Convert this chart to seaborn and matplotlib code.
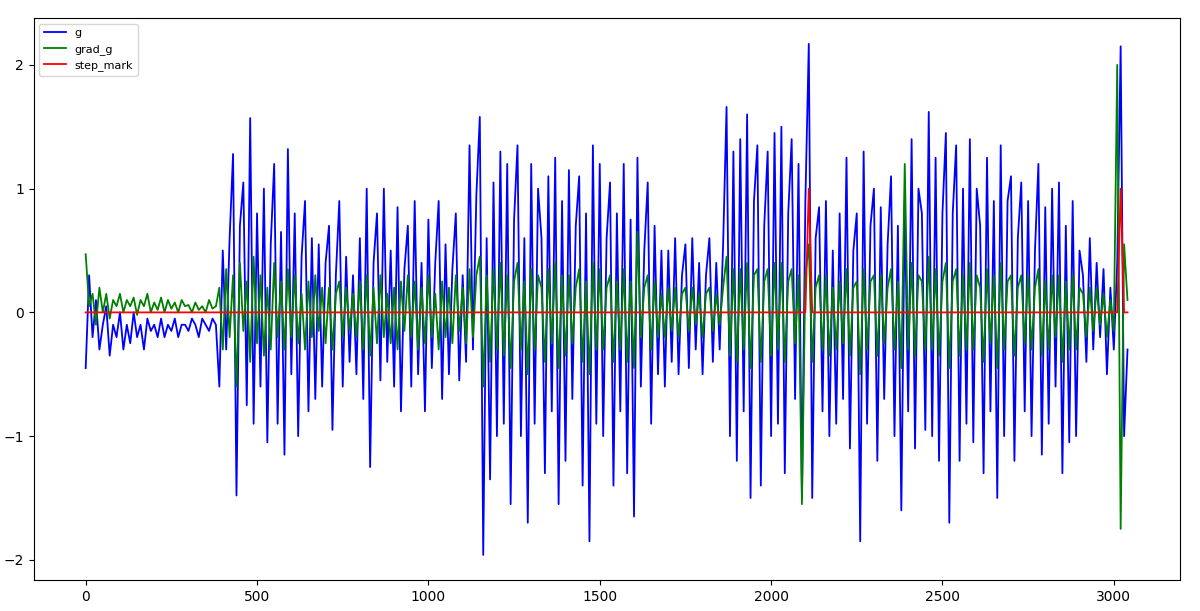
import numpy as np
import matplotlib
matplotlib.use("Agg")
import matplotlib.pyplot as plt
import seaborn as sns

# === datos (leidos a ojo, un valor cada 10 muestras) ===
x = np.arange(0, 3050, 10)

g = [
    -0.45, 0.3, -0.2, 0.1, -0.3, -0.1, 0.05, -0.35, -0.1, -0.2,
    0.0, -0.3, -0.1, -0.25, 0.0, -0.2, -0.1, -0.3, -0.05, -0.15,
    -0.1, -0.2, -0.05, -0.2, -0.1, -0.15, -0.05, -0.2, -0.1, -0.1,
    -0.15, -0.05, -0.1, -0.2, -0.05, -0.1, -0.15, -0.05, -0.1, -0.6,
    0.5, -0.3, 0.6, 1.28, -1.48, 0.7, 1.05, -0.75, 1.57, -0.9,
    0.8, -0.6, 1.0, -1.05, 0.55, 1.2, -0.9, 0.65, -1.15, 1.32,
    -0.5, 0.8, -1.0, 0.45, 0.9, -0.8, 0.6, -0.7, 0.55, -0.6,
    0.4, 0.7, -0.95, 0.3, 0.9, -0.6, 0.45, -0.4, 0.3, -0.5,
    0.6, -0.7, 1.0, -1.25, 0.4, 0.8, -0.55, 1.0, -0.4, 0.5,
    -0.6, 0.85, -0.8, 0.35, 0.7, -0.6, 0.9, -0.5, 0.4, -0.8,
    0.75, -0.45, 0.4, 0.9, -0.7, 0.55, -0.5, 0.35, 0.8, -0.55,
    0.3, -0.4, 1.35, -0.3, 0.95, 1.58, -1.96, 0.6, -1.35, 1.05,
    -1.0, 1.3, -0.9, 1.2, -1.55, 0.75, 1.35, -1.0, 0.6, -1.7,
    1.2, -0.9, 1.0, 0.6, -1.3, 1.1, -0.8, 1.25, -1.55, 0.9,
    -1.2, 1.15, -0.7, 0.7, 1.1, -1.4, 0.8, -1.85, 1.35, -0.9,
    1.2, -1.0, 0.6, 1.05, -1.4, 0.8, -0.8, 1.2, -1.3, 0.75,
    -1.65, 1.25, -0.6, 0.5, 1.05, -0.9, 0.7, -0.5, 0.5, -0.6,
    0.5, -0.4, 0.6, -0.5, 0.3, 0.55, -0.45, 0.6, -0.3, 0.4,
    -0.5, 0.3, 0.6, -0.4, 0.4, -0.3, 0.55, 1.66, -1.0, 1.3,
    -1.2, 1.4, -0.8, 1.6, -1.5, 0.9, 1.35, -1.4, 0.7, 1.3,
    -1.0, 1.45, -0.9, 1.5, -1.3, 0.8, 1.4, -0.7, 1.2, -1.5,
    0.9, 2.17, -1.5, 0.6, 0.85, -0.8, 0.9, -1.0, 0.5, -0.9,
    0.8, -0.7, 1.25, -1.1, 0.5, 0.8, -1.85, 1.3, -0.9, 0.7,
    1.0, -1.2, 0.85, -0.7, 0.55, 1.1, -1.0, 0.7, -1.6, 0.9,
    -0.8, 1.4, -1.1, 1.0, 0.8, -0.95, 1.62, -1.0, 1.25, -1.2,
    0.8, 1.45, -1.7, 0.8, 1.35, -1.2, 1.0, -0.9, 1.4, -1.05,
    1.0, 0.7, -1.3, 1.25, -0.8, 0.9, -1.5, 1.35, -1.0, 0.9,
    1.1, -1.2, 0.6, 1.05, -0.8, 0.9, -1.0, 0.5, 1.2, -1.15,
    0.85, -0.9, 1.0, -0.6, 1.05, -1.3, 0.7, -1.05, 0.9, -1.0,
    0.5, 0.3, -0.4, 0.6, -0.3, 0.4, -0.2, 0.35, -0.5, 0.2,
    -0.3, 0.4, 2.15, -1.0, -0.3,
]

grad_g = [
    0.47, 0.05, 0.15, -0.1, 0.2, 0.0, 0.15, -0.05, 0.1, 0.05,
    0.15, 0.0, 0.1, 0.05, 0.12, -0.02, 0.1, 0.05, 0.15, 0.0,
    0.08, 0.02, 0.12, 0.0, 0.1, 0.03, 0.08, 0.0, 0.1, 0.05,
    0.06, 0.0, 0.08, 0.02, 0.05, 0.0, 0.1, 0.03, 0.05, 0.2,
    -0.3, 0.35, -0.2, 0.3, -0.6, 0.4, -0.15, 0.25, -0.4, 0.45,
    -0.25, 0.3, -0.35, 0.2, -0.3, 0.4, -0.2, 0.25, -0.3, 0.35,
    -0.2, 0.3, -0.25, 0.15, -0.3, 0.25, -0.2, 0.3, -0.15, 0.2,
    -0.25, 0.2, -0.3, 0.15, 0.25, -0.2, 0.2, -0.15, 0.15, -0.2,
    0.25, -0.3, 0.3, -0.35, 0.2, -0.25, 0.3, -0.2, 0.15, -0.25,
    0.2, -0.3, 0.25, -0.15, 0.3, -0.2, 0.25, -0.3, 0.2, -0.25,
    0.3, -0.2, 0.15, -0.3, 0.25, -0.2, 0.2, -0.25, 0.3, -0.15,
    0.2, -0.25, 0.35, -0.2, 0.3, 0.45, -0.6, 0.3, -0.4, 0.35,
    -0.3, 0.4, -0.35, 0.3, -0.45, 0.25, 0.4, -0.3, 0.25, -0.5,
    0.35, -0.3, 0.3, 0.2, -0.4, 0.35, -0.25, 0.4, -0.45, 0.3,
    -0.35, 0.3, -0.25, 0.2, 0.35, -0.4, 0.25, -0.5, 0.4, -0.3,
    0.35, -0.3, 0.2, 0.3, -0.4, 0.25, -0.3, 0.35, -0.4, 0.25,
    -0.45, 0.65, -0.2, 0.2, 0.3, -0.3, 0.25, -0.2, 0.15, -0.2,
    0.2, -0.15, 0.2, -0.2, 0.15, 0.2, -0.15, 0.2, -0.1, 0.15,
    -0.2, 0.15, 0.2, -0.15, 0.15, -0.1, 0.2, 0.45, -0.35, 0.35,
    -0.4, 0.35, -0.3, 0.4, -0.45, 0.3, 0.35, -0.4, 0.25, 0.35,
    -0.35, 0.4, -0.3, 0.4, -0.4, 0.25, 0.35, -0.25, 0.3, -1.55,
    0.3, 0.55, -0.4, 0.2, 0.3, -0.3, 0.3, -0.35, 0.2, -0.3,
    0.25, -0.25, 0.35, -0.35, 0.2, 0.25, -0.5, 0.35, -0.3, 0.25,
    0.3, -0.35, 0.3, -0.25, 0.2, 0.35, -0.3, 0.25, -0.45, 1.2,
    -0.3, 0.4, -0.35, 0.3, 0.25, -0.3, 0.45, -0.3, 0.35, -0.35,
    0.25, 0.4, -0.45, 0.25, 0.35, -0.35, 0.3, -0.3, 0.4, -0.3,
    0.3, 0.2, -0.4, 0.35, -0.25, 0.3, -0.45, 0.4, -0.3, 0.25,
    0.3, -0.35, 0.2, 0.3, -0.25, 0.3, -0.3, 0.2, 0.35, -0.35,
    0.25, -0.3, 0.3, -0.2, 0.3, -0.4, 0.25, -0.3, 0.3, -0.3,
    0.2, 0.15, -0.2, 0.2, -0.15, 0.2, -0.1, 0.15, -0.2, 0.1,
    -0.15, 2.0, -1.75, 0.55, 0.1,
]

step_idx = [2110, 3020]
step_mark = np.zeros(len(x))
step_mark[np.isin(x, step_idx)] = 1.0

# === grafica ===
fig, ax = plt.subplots(figsize=(12, 6.11), dpi=100)
sns.lineplot(x=x, y=g, color="blue", label="g", ax=ax, linewidth=1.3)
sns.lineplot(x=x, y=grad_g, color="green", label="grad_g", ax=ax, linewidth=1.3)
sns.lineplot(x=x, y=step_mark, color="red", label="step_mark", ax=ax, linewidth=1.3)
ax.legend(loc="upper left", fontsize=8)
fig.subplots_adjust(left=0.028, right=0.983, top=0.97, bottom=0.05)
fig.savefig("out.png")
